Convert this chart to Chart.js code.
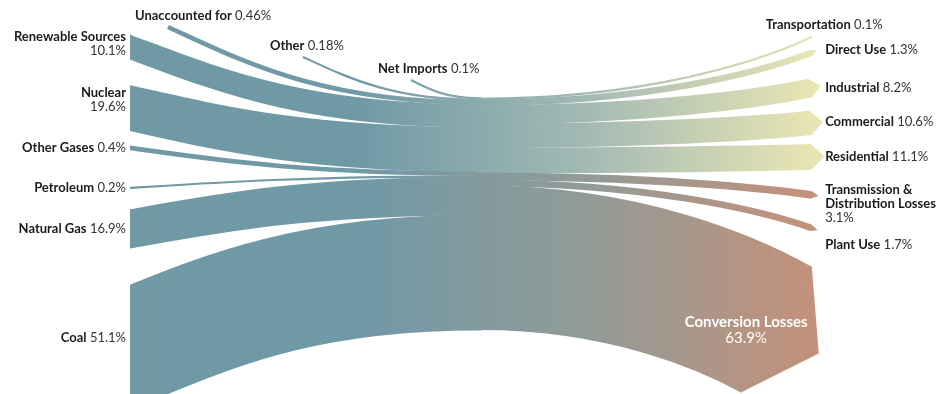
<!DOCTYPE html>
<html>
<head>
<meta charset="utf-8">
<script src="https://cdn.jsdelivr.net/npm/chart.js@4.4.1/dist/chart.umd.min.js"></script>
<style>
html,body{margin:0;padding:0;background:#fff}
canvas{display:block}
</style>
</head>
<body>
<canvas id="sankey" width="940" height="394"></canvas>
<script>
let chart

// sources on the left, percent of total energy input
let sourceNames = ["Renewable Sources","Nuclear","Other Gases","Petroleum","Natural Gas","Coal"]
let sourceValues = [10.1,19.6,0.4,0.2,16.9,51.1]
let sourceGroup = ["use","use","loss","loss","loss","loss"]

// small sources that come in from the top
let minorNames = ["Unaccounted for","Other","Net Imports"]
let minorValues = [0.46,0.18,0.1]

// where it ends up, on the right
let targetNames = ["Transportation","Direct Use","Industrial","Commercial","Residential","Transmission & Distribution Losses","Plant Use","Conversion Losses"]
let targetValues = [0.1,1.3,8.2,10.6,11.1,3.1,1.7,63.9]
let targetGroup = ["use","use","use","use","use","loss","loss","loss"]

// layout (axis units: x 0-100 across, y = percent points downwards)
let colLeft = 13.83
let colMid = 51
let colRight = 86.4
let midTop = 43.5
let sourceGaps = [15.85,12.25,7.0,16.55,9.4,18.5]
let targetGaps = [16.0,5.4,10.2,6.1,4.25,9.8,11.8,12.0]
let minorX = [17.87,32.23,43.72]
let minorY = [12.0,25.3,35.5]
let sourceStacked = [true,true,false,false,false,false]
let sourceLabelDy = [-1.3,-3.6,0,0,0,-4]
let targetLabelPos = ["above","right","right","right","right","right","right","inside"]
let targetLabelDy = [-5.3,-1.3,0,-0.4,0,4,7.5,0]

let teal = "#7099a6"
let useMid = "#a3bab3"
let useColor = "#e9e5b3"
let lossMid = "#929b97"
let lossColor = "#c4917a"
let gradFrom = 38
let gradTo = 86.7

function bandPx(v,k){
let w = v*k
if(v < 0.3) return Math.max(w,1.6)
if(v < 1) return Math.max(w,4)
return Math.max(w,6)
}

function fmt(v){
return v + "%"
}

// lines: [[bold, regular], ...]
function textBlock(ctx,lines,x,yc,align,size,dark,light){
let lh = size + 1
let y = yc - (lines.length-1)*lh/2
ctx.textBaseline = "middle"
ctx.textAlign = "left"
lines.forEach(l => {
ctx.font = "bold " + size + "px Lato"
let wb = l[0] ? ctx.measureText(l[0]).width : 0
ctx.font = size + "px Lato"
let reg = l[1] ? (l[0] ? " " + l[1] : l[1]) : ""
let wr = reg ? ctx.measureText(reg).width : 0
let x0 = x
if(align === "right") x0 = x - wb - wr
if(align === "center") x0 = x - (wb + wr)/2
if(l[0]){
ctx.font = "bold " + size + "px Lato"
ctx.fillStyle = dark
ctx.fillText(l[0],x0,y)
}
if(reg){
ctx.font = size + "px Lato"
ctx.fillStyle = light
ctx.fillText(reg,x0 + wb,y)
}
y += lh
})
}

function wrapWords(ctx,text,maxW,size){
ctx.font = "bold " + size + "px Lato"
let words = text.split(" ")
let lines = []
let cur = ""
words.forEach(w => {
let test = cur ? cur + " " + w : w
if(ctx.measureText(test).width > maxW && cur){
lines.push(cur)
cur = w
}else{
cur = test
}
})
lines.push(cur)
return lines
}

let sankeyPlugin = {
id:"sankey",
afterDatasetsDraw(chart){

let ctx = chart.ctx
let xs = chart.scales.x
let ys = chart.scales.y
let px = v => xs.getPixelForValue(v)
let py = v => ys.getPixelForValue(v)
let k = Math.abs(py(1) - py(0))
let W = chart.width
let H = chart.height

let gUse = ctx.createLinearGradient(px(gradFrom),0,px(gradTo),0)
gUse.addColorStop(0,teal)
gUse.addColorStop(0.5,useMid)
gUse.addColorStop(1,useColor)
let gLoss = ctx.createLinearGradient(px(gradFrom),0,px(gradTo),0)
gLoss.addColorStop(0,teal)
gLoss.addColorStop(0.5,lossMid)
gLoss.addColorStop(1,lossColor)
let grad = g => g === "use" ? gUse : gLoss

let unit = v => bandPx(v,k)/k
let sum = a => a.reduce((s,v) => s + unit(v),0)
let inTotal = sum(minorValues) + sum(sourceValues)
let outTotal = sum(targetValues)

// stack the middle column: minor sources on top, then the main ones
let mid = midTop + (outTotal - inTotal)/2
let minorMid = []
for(let i=minorValues.length-1;i>=0;i--){
let wu = unit(minorValues[i])
minorMid[i] = mid + wu/2
mid += wu
}
let srcMid = []
let srcY = []
let yy = 0
sourceValues.forEach((v,i) => {
let wu = unit(v)
srcMid[i] = mid + wu/2
mid += wu
yy += sourceGaps[i]
srcY[i] = yy + wu/2
yy += wu
})

let tgtMid = []
let tgtY = []
mid = midTop
yy = 0
targetValues.forEach((v,i) => {
let wu = unit(v)
tgtMid[i] = mid + wu/2
mid += wu
yy += targetGaps[i]
tgtY[i] = yy + wu/2
yy += wu
})

let xL = px(colLeft)
let xM = px(colMid)
let xR = px(colRight)

ctx.save()
ctx.lineCap = "butt"

// left links, cut straight at the left column
function leftLink(x0,y0,y3,w,g,clip){
let L = xM - x0
let d = y3 - y0
let s = 1.9*d/L
let len = Math.hypot(1,s)
let ux = 1/len
let uy = s/len
ctx.save()
if(clip){
ctx.beginPath()
ctx.rect(xL,0,W,H)
ctx.clip()
}
ctx.beginPath()
if(clip){
ctx.moveTo(x0 - ux*40,y0 - uy*40)
ctx.lineTo(x0,y0)
}else{
ctx.moveTo(x0,y0)
}
ctx.bezierCurveTo(x0 + 0.25*L,y0 + s*0.25*L,xM - 0.5*L,y3,xM,y3)
ctx.lineTo(xM + 2,y3)
ctx.lineWidth = w + 0.6
ctx.strokeStyle = g
ctx.stroke()
ctx.restore()
}

sourceValues.forEach((v,i) => {
leftLink(xL,py(srcY[i]),py(srcMid[i]),bandPx(v,k),grad(sourceGroup[i]),true)
})
minorValues.forEach((v,i) => {
leftLink(px(minorX[i]),py(minorY[i]),py(minorMid[i]),bandPx(v,k),gUse,false)
})

// right links, with an arrow head at the end
targetValues.forEach((v,i) => {
let w = bandPx(v,k)
let y0 = py(tgtMid[i])
let y3 = py(tgtY[i])
let d = y3 - y0
let s = 2.6*d/(xR - xM)
let len = Math.hypot(1,s)
let ux = 1/len
let uy = s/len
let x3 = xR - (w/2)*Math.abs(uy)
let L = x3 - xM
let g = grad(targetGroup[i])
ctx.beginPath()
ctx.moveTo(xM - 2,y0)
ctx.lineTo(xM,y0)
ctx.bezierCurveTo(xM + 0.5*L,y0,x3 - 0.15*L,y3 - s*0.15*L,x3,y3)
ctx.lineWidth = w + 0.6
ctx.strokeStyle = g
ctx.stroke()
if(w >= 3){
let h = 0.3*w + 5
let hw = w/2 + 0.3
let bx = x3 - ux*0.6
let by = y3 - uy*0.6
ctx.beginPath()
ctx.moveTo(bx + uy*hw,by - ux*hw)
ctx.lineTo(x3 + ux*h,y3 + uy*h)
ctx.lineTo(bx - uy*hw,by + ux*hw)
ctx.closePath()
ctx.fillStyle = g
ctx.fill()
}
})

ctx.restore()

// labels
let dark = "#1b1b1b"
let light = "#333333"
let size = 13

sourceNames.forEach((n,i) => {
let y = py(srcY[i] + sourceLabelDy[i])
let lines = sourceStacked[i] ? [[n,""],["",fmt(sourceValues[i])]] : [[n,fmt(sourceValues[i])]]
textBlock(ctx,lines,xL - 4,y,"right",size,dark,light)
})

minorNames.forEach((n,i) => {
let x = px(minorX[i]) - 33
let y = py(minorY[i]) - 11.5
textBlock(ctx,[[n,fmt(minorValues[i])]],x,y,"left",size,dark,light)
})

targetNames.forEach((n,i) => {
let pos = targetLabelPos[i]
let y = py(tgtY[i] + targetLabelDy[i])
if(pos === "inside"){
textBlock(ctx,[[n,""],["",fmt(targetValues[i])]],xR - 66,y,"center",15,"#ffffff","#ffffff")
}else if(pos === "above"){
textBlock(ctx,[[n,fmt(targetValues[i])]],xR + 12,y,"center",size,dark,light)
}else{
let nameLines = wrapWords(ctx,n,135,size)
let lines
if(nameLines.length > 1){
lines = nameLines.map(t => [t,""])
lines.push(["",fmt(targetValues[i])])
}else{
lines = [[n,fmt(targetValues[i])]]
}
textBlock(ctx,lines,xR + 13,y,"left",size,dark,light)
}
})

}
}

chart = new Chart(document.getElementById("sankey"),{
type:"scatter",
data:{
datasets:[{
data:sourceValues.map((v,i) => ({x:colLeft,y:v})),
pointRadius:0,
showLine:false
}]
},
options:{
responsive:false,
animation:false,
devicePixelRatio:1,
layout:{padding:0},
plugins:{
legend:{display:false},
tooltip:{enabled:false}
},
scales:{
x:{type:"linear",min:0,max:100,display:false},
y:{type:"linear",min:0,max:175,reverse:true,display:false}
}
},
plugins:[sankeyPlugin]
})
</script>
</body>
</html>
